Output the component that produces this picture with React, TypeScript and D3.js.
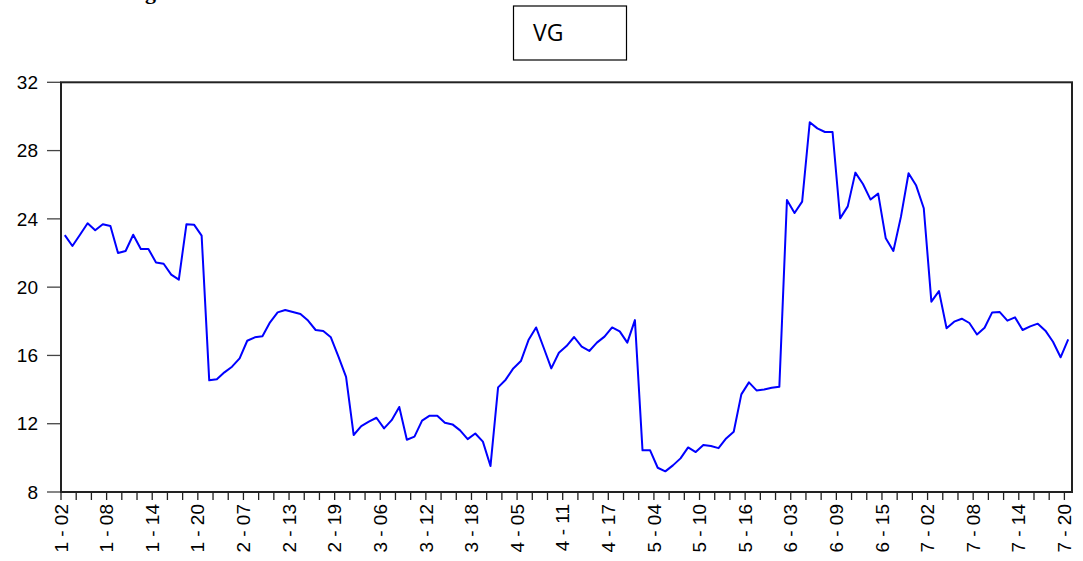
import React, { useEffect, useRef } from "react";
import * as d3 from "d3";

// VG series, one value per observation
const vgValues = [
  23.05, 22.41, 23.07, 23.74, 23.33, 23.68, 23.58, 22.0, 22.12, 23.07,
  22.23, 22.23, 21.45, 21.37, 20.73, 20.44, 23.68, 23.66, 23.02, 14.54,
  14.6, 15.01, 15.34, 15.83, 16.86, 17.06, 17.12, 17.94, 18.52, 18.66,
  18.54, 18.43, 18.04, 17.49, 17.43, 17.06, 15.93, 14.75, 11.34, 11.86,
  12.12, 12.35, 11.73, 12.21, 12.98, 11.06, 11.24, 12.18, 12.47, 12.47,
  12.06, 11.96, 11.61, 11.1, 11.43, 10.95, 9.52, 14.13, 14.58, 15.24,
  15.67, 16.9, 17.64, 16.45, 15.24, 16.16, 16.55, 17.08, 16.51, 16.26,
  16.75, 17.1, 17.64, 17.41, 16.75, 18.07, 10.44, 10.44, 9.42, 9.21,
  9.56, 9.97, 10.61, 10.34, 10.75, 10.69, 10.57, 11.14, 11.53, 13.72,
  14.42, 13.95, 14.01, 14.11, 14.17, 25.11, 24.34, 25.01, 29.66, 29.3,
  29.09, 29.09, 24.03, 24.73, 26.71, 26.04, 25.13, 25.48, 22.86, 22.12,
  24.13, 26.67, 25.95, 24.62, 19.15, 19.77, 17.59, 17.98, 18.15, 17.9,
  17.23, 17.62, 18.52, 18.54, 18.04, 18.23, 17.49, 17.7, 17.86, 17.45,
  16.8, 15.89, 16.94,
];

// labels shown every 6 observations
const xTickLabels = [
  "1 - 02", "1 - 08", "1 - 14", "1 - 20", "2 - 07", "2 - 13", "2 - 19",
  "3 - 06", "3 - 12", "3 - 18", "4 - 05", "4 - 11", "4 - 17", "5 - 04",
  "5 - 10", "5 - 16", "6 - 03", "6 - 09", "6 - 15", "7 - 02", "7 - 08",
  "7 - 14", "7 - 20",
];

const yTicks = [8, 12, 16, 20, 24, 28, 32];

const seriesName = "VG";

export default function App() {
  const svgRef = useRef(null);

  useEffect(() => {
    const svg = d3.select(svgRef.current);
    svg.selectAll("*").remove();

    const left = 61;
    const right = 1072;
    const top = 82.3;
    const bottom = 492;

    const n = vgValues.length;
    const step = (right - left) / n;

    const x = d3
      .scalePoint()
      .domain(d3.range(n))
      .range([left, right])
      .padding(0.5);

    const y = d3.scaleLinear().domain([8, 32]).range([bottom, top]);

    // cut-off caption fragment at the very top (only the descender shows)
    svg
      .append("text")
      .attr("x", 145)
      .attr("y", -1)
      .attr("font-family", "Liberation Serif")
      .attr("font-weight", "bold")
      .attr("font-size", 22)
      .text("g");

    // legend box
    svg
      .append("rect")
      .attr("x", 513.5)
      .attr("y", 6)
      .attr("width", 113)
      .attr("height", 54)
      .attr("fill", "none")
      .attr("stroke", "#000")
      .attr("stroke-width", 1.2);
    svg
      .append("text")
      .attr("x", 533)
      .attr("y", 41)
      .attr("font-family", "Open Sans")
      .attr("font-size", 23)
      .text(seriesName);

    // y ticks + labels
    const yAxis = svg.append("g");
    yAxis
      .selectAll("line")
      .data(yTicks)
      .enter()
      .append("line")
      .attr("x1", 47)
      .attr("x2", left)
      .attr("y1", (d) => y(d))
      .attr("y2", (d) => y(d))
      .attr("stroke", "#444")
      .attr("stroke-width", 1.3);
    yAxis
      .selectAll("text")
      .data(yTicks)
      .enter()
      .append("text")
      .attr("x", 38)
      .attr("y", (d) => y(d))
      .attr("dy", "0.35em")
      .attr("text-anchor", "end")
      .attr("font-family", "Liberation Sans")
      .attr("font-size", 19)
      .text((d) => d);

    // x ticks every 2 obs, labels every 6
    const tickIdx = d3.range(0, n, 2);
    const bx = (i) => x(i) - step / 2;
    svg
      .append("g")
      .selectAll("line")
      .data(tickIdx)
      .enter()
      .append("line")
      .attr("x1", bx)
      .attr("x2", bx)
      .attr("y1", bottom)
      .attr("y2", bottom + 8)
      .attr("stroke", "#222")
      .attr("stroke-width", 1.3);

    svg
      .append("g")
      .selectAll("text")
      .data(xTickLabels)
      .enter()
      .append("text")
      .attr("transform", (d, i) => `translate(${bx(i * 6)},${bottom + 12}) rotate(-90)`)
      .attr("dy", "0.35em")
      .attr("text-anchor", "end")
      .attr("font-family", "Liberation Sans")
      .attr("font-size", 19)
      .text((d) => d);

    // frame
    svg
      .append("rect")
      .attr("x", left)
      .attr("y", top)
      .attr("width", right - left)
      .attr("height", bottom - top)
      .attr("fill", "none")
      .attr("stroke", "#222")
      .attr("stroke-width", 2);

    const line = d3
      .line()
      .x((d, i) => x(i))
      .y((d) => y(d));

    svg
      .append("path")
      .datum(vgValues)
      .attr("d", line)
      .attr("fill", "none")
      .attr("stroke", "#0000ff")
      .attr("stroke-width", 2)
      .attr("stroke-linejoin", "round");
  }, []);

  return (
    <div style={{ position: "absolute", left: 0, top: 0 }}>
      <svg ref={svgRef} width={1083} height={561} style={{ display: "block", background: "#fff" }} />
    </div>
  );
}
